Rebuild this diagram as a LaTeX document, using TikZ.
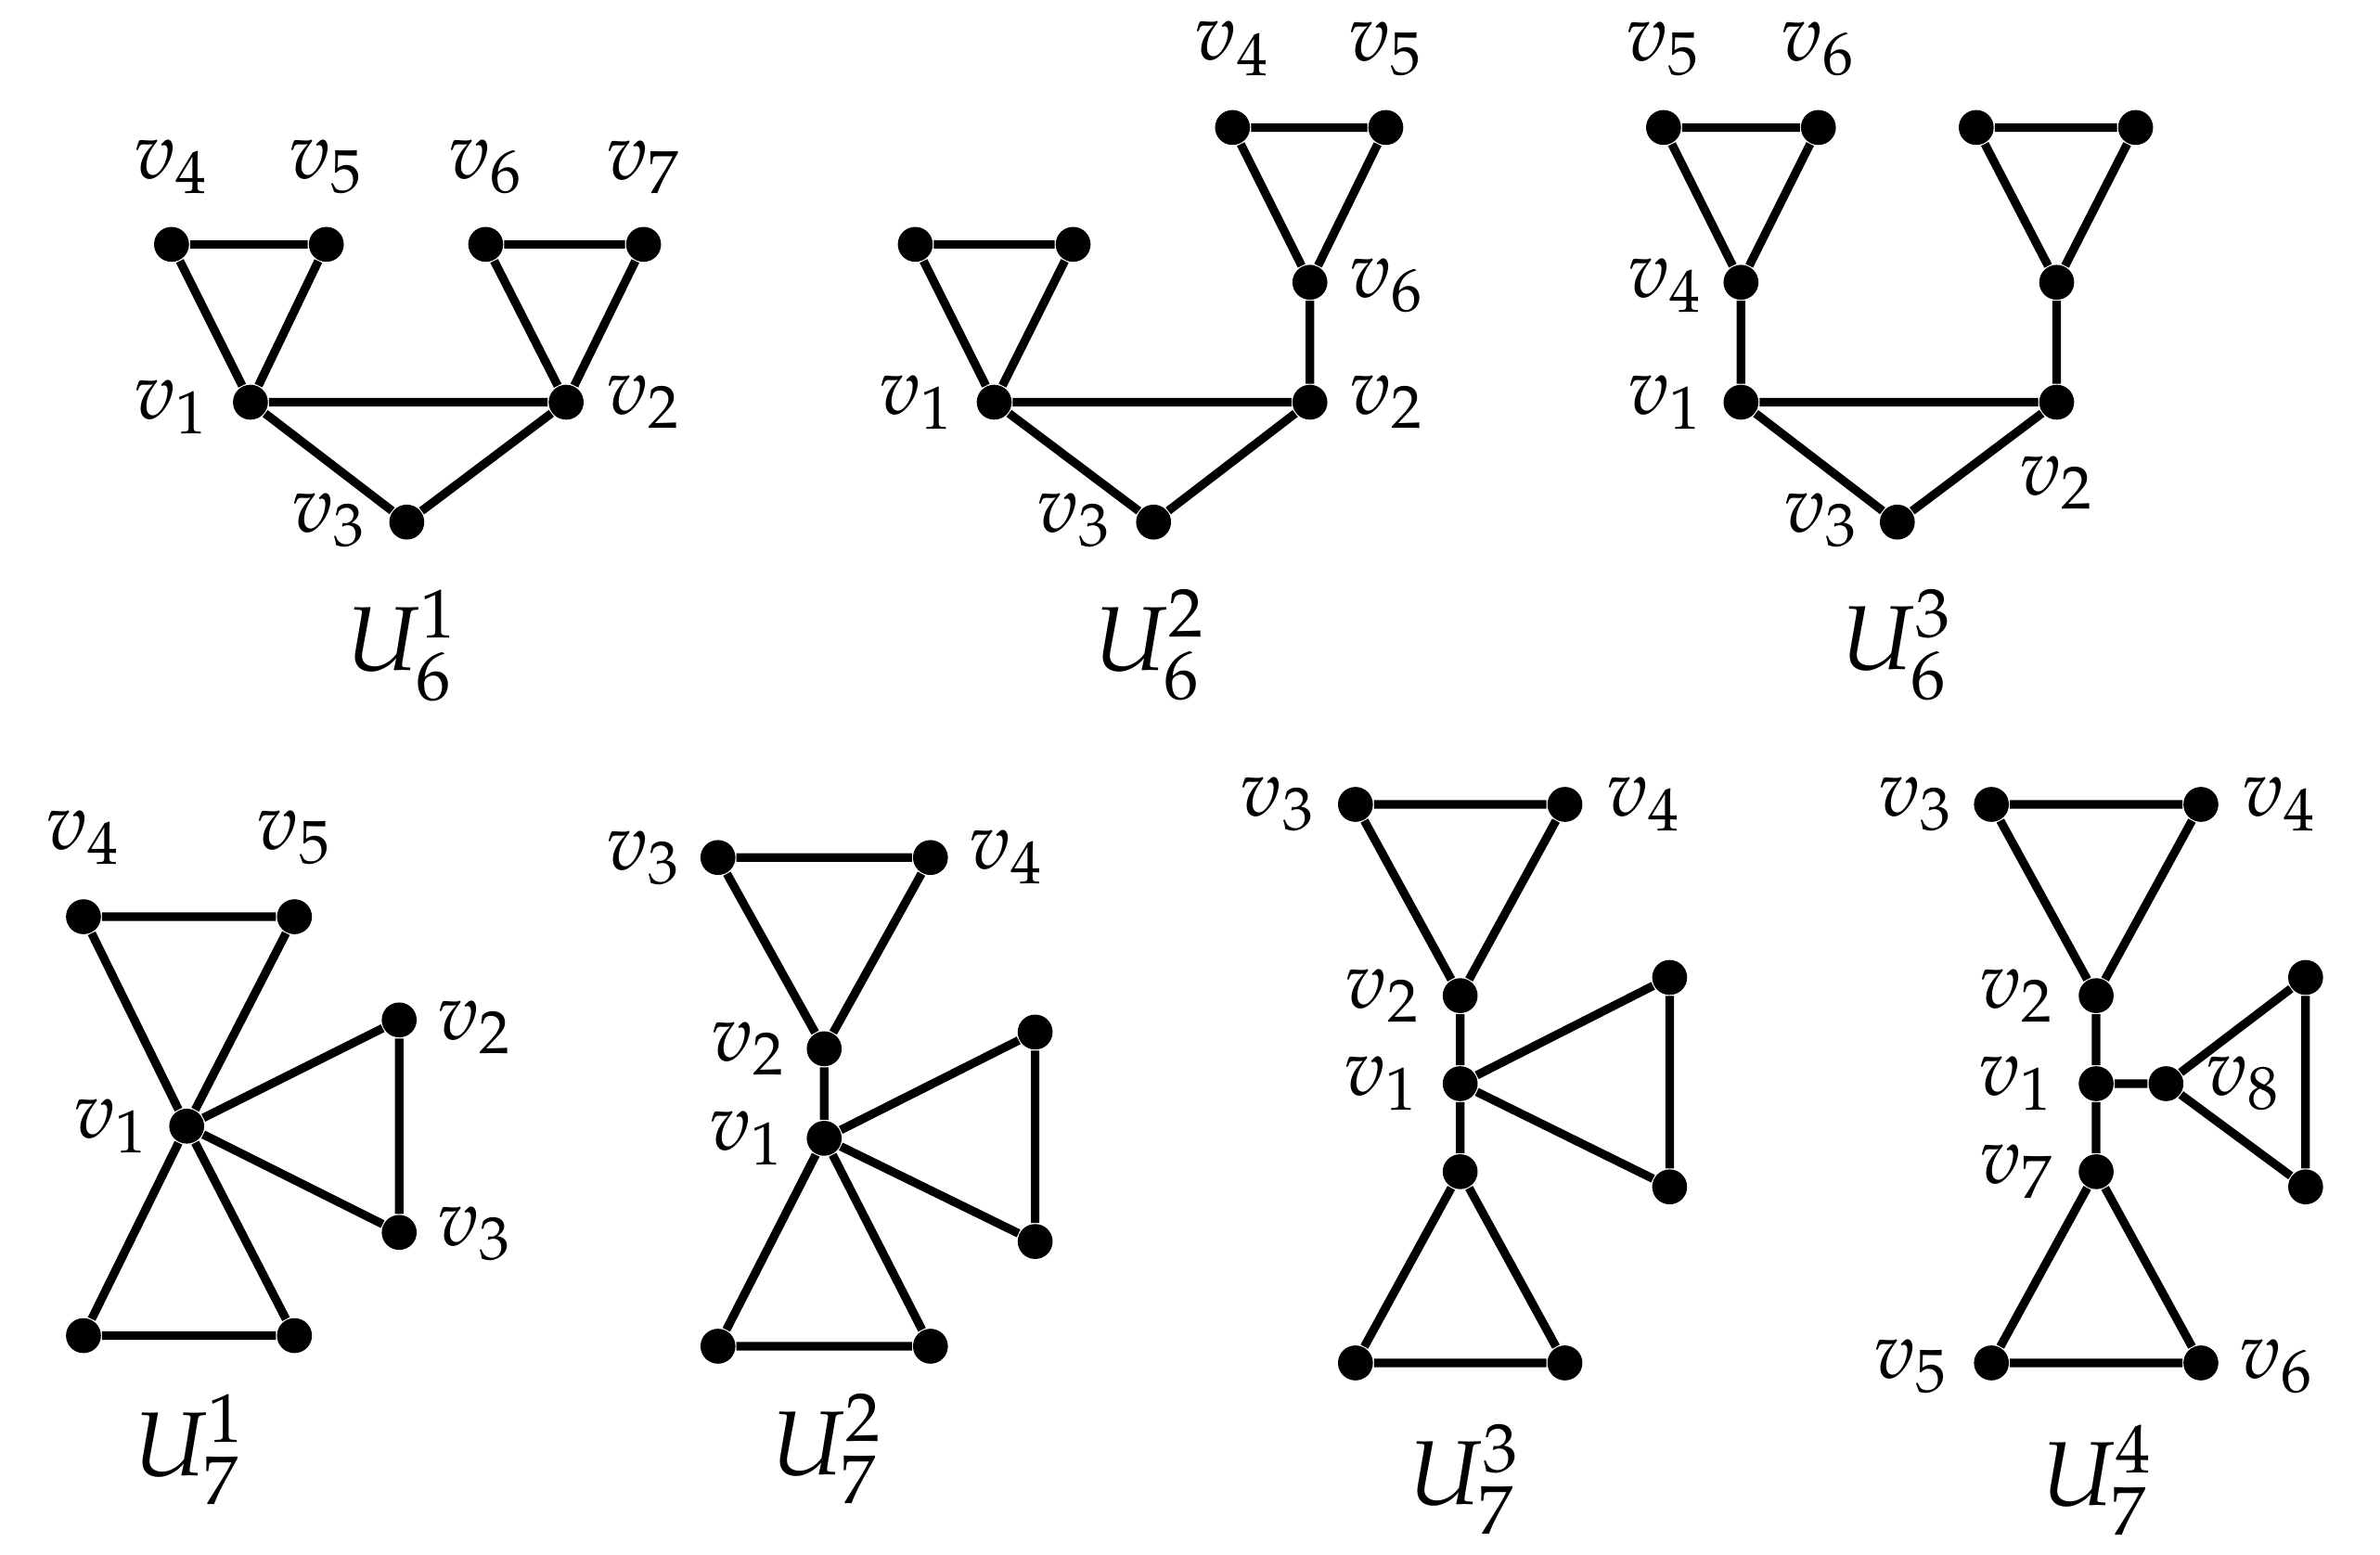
\documentclass[tikz,border=0pt]{standalone}
\usepackage{mathpazo}
\begin{document}
\begin{tikzpicture}[x=0.01cm,y=-0.01cm,
  dot/.style={circle,fill=black,inner sep=0pt,minimum size=0.23cm},
  lbl/.style={inner sep=0pt,font=\fontsize{15}{18}\selectfont},
  ttl/.style={inner sep=0pt,font=\fontsize{17}{20}\selectfont},
  edge/.style={line width=1.6pt}]
\useasboundingbox (0,0) rectangle (1568,1024);
% ---------- U_6^1 ----------
\node[dot] (a4) at (113,161) {};
\node[dot] (a5) at (215,161) {};
\node[dot] (a6) at (320,161) {};
\node[dot] (a7) at (424,161) {};
\node[dot] (a1) at (165,265) {};
\node[dot] (a2) at (373,265) {};
\node[dot] (a3) at (268,344) {};
\draw[edge] (a4)--(a5) (a4)--(a1) (a5)--(a1) (a6)--(a7) (a6)--(a2) (a7)--(a2)
  (a1)--(a2) (a1)--(a3) (a3)--(a2);
\node[lbl] (la4) at (113,110) {$v_4$};
\node[lbl] (la5) at (215,110) {$v_5$};
\node[lbl] (la6) at (320,110) {$v_6$};
\node[lbl] (la7) at (424,110) {$v_7$};
\node[lbl] (la1) at (113,268) {$v_1$};
\node[lbl] (la2) at (424,265) {$v_2$};
\node[lbl] (la3) at (217,343) {$v_3$};
\node[ttl] (ta) at (265,425) {$U_6^1$};
% ---------- U_6^2 ----------
\node[dot] (b4) at (812,84) {};
\node[dot] (b5) at (913,84) {};
\node[dot] (b6) at (863,186) {};
\node[dot] (b2) at (863,265) {};
\node[dot] (b1) at (655,265) {};
\node[dot] (b3) at (760,344) {};
\node[dot] (b7) at (603,161) {};
\node[dot] (b8) at (707,161) {};
\draw[edge] (b4)--(b5) (b4)--(b6) (b5)--(b6) (b6)--(b2) (b1)--(b2) (b1)--(b3) (b3)--(b2)
  (b7)--(b8) (b7)--(b1) (b8)--(b1);
\node[lbl] (lb4) at (812,32) {$v_4$};
\node[lbl] (lb5) at (913,32) {$v_5$};
\node[lbl] (lb6) at (914,188) {$v_6$};
\node[lbl] (lb2) at (914,265) {$v_2$};
\node[lbl] (lb1) at (604,265) {$v_1$};
\node[lbl] (lb3) at (708,343) {$v_3$};
\node[ttl] (tb) at (758,425) {$U_6^2$};
% ---------- U_6^3 ----------
\node[dot] (c5) at (1096,84) {};
\node[dot] (c6) at (1198,84) {};
\node[dot] (c4) at (1147,186) {};
\node[dot] (c1) at (1147,265) {};
\node[dot] (c2) at (1355,265) {};
\node[dot] (c3) at (1250,344) {};
\node[dot] (c7) at (1302,84) {};
\node[dot] (c8) at (1407,84) {};
\node[dot] (c9) at (1355,186) {};
\draw[edge] (c5)--(c6) (c5)--(c4) (c6)--(c4) (c4)--(c1) (c1)--(c2) (c1)--(c3) (c3)--(c2)
  (c7)--(c8) (c7)--(c9) (c8)--(c9) (c9)--(c2);
\node[lbl] (lc5) at (1096,32) {$v_5$};
\node[lbl] (lc6) at (1198,32) {$v_6$};
\node[lbl] (lc4) at (1097,188) {$v_4$};
\node[lbl] (lc1) at (1097,265) {$v_1$};
\node[lbl] (lc2) at (1355,318) {$v_2$};
\node[lbl] (lc3) at (1200,343) {$v_3$};
\node[ttl] (tc) at (1250,425) {$U_6^3$};
% ---------- U_7^1 ----------
\node[dot] (d4) at (55,604) {};
\node[dot] (d5) at (194,604) {};
\node[dot] (d1) at (123,742) {};
\node[dot] (d2) at (263,672) {};
\node[dot] (d3) at (263,812) {};
\node[dot] (d6) at (55,880) {};
\node[dot] (d7) at (194,880) {};
\draw[edge] (d4)--(d5) (d4)--(d1) (d5)--(d1) (d1)--(d2) (d2)--(d3) (d3)--(d1)
  (d1)--(d6) (d1)--(d7) (d6)--(d7);
\node[lbl] (ld4) at (55,552) {$v_4$};
\node[lbl] (ld5) at (194,552) {$v_5$};
\node[lbl] (ld1) at (73,742) {$v_1$};
\node[lbl] (ld2) at (313,677) {$v_2$};
\node[lbl] (ld3) at (313,813) {$v_3$};
\node[ttl] (td) at (125,955) {$U_7^1$};
% ---------- U_7^2 ----------
\node[dot] (e3) at (473,565) {};
\node[dot] (e4) at (613,565) {};
\node[dot] (e2) at (543,691) {};
\node[dot] (e1) at (543,750) {};
\node[dot] (e5) at (682,680) {};
\node[dot] (e6) at (682,818) {};
\node[dot] (e7) at (473,887) {};
\node[dot] (e8) at (613,887) {};
\draw[edge] (e3)--(e4) (e3)--(e2) (e4)--(e2) (e2)--(e1) (e1)--(e5) (e5)--(e6) (e6)--(e1)
  (e1)--(e7) (e1)--(e8) (e7)--(e8);
\node[lbl] (le3) at (424,565) {$v_3$};
\node[lbl] (le4) at (663,565) {$v_4$};
\node[lbl] (le2) at (493,691) {$v_2$};
\node[lbl] (le1) at (492,750) {$v_1$};
\node[ttl] (te) at (545,955) {$U_7^2$};
% ---------- U_7^3 ----------
\node[dot] (f3) at (893,530) {};
\node[dot] (f4) at (1031,530) {};
\node[dot] (f2) at (962,656) {};
\node[dot] (f1) at (962,714) {};
\node[dot] (f7) at (962,772) {};
\node[dot] (f8) at (1100,644) {};
\node[dot] (f9) at (1100,782) {};
\node[dot] (f5) at (893,898) {};
\node[dot] (f6) at (1031,898) {};
\draw[edge] (f3)--(f4) (f3)--(f2) (f4)--(f2) (f2)--(f1) (f1)--(f7) (f1)--(f8) (f8)--(f9) (f9)--(f1)
  (f7)--(f5) (f7)--(f6) (f5)--(f6);
\node[lbl] (lf3) at (842,530) {$v_3$};
\node[lbl] (lf4) at (1083,530) {$v_4$};
\node[lbl] (lf2) at (911,656) {$v_2$};
\node[lbl] (lf1) at (910,714) {$v_1$};
\node[ttl] (tf) at (965,975) {$U_7^3$};
% ---------- U_7^4 ----------
\node[dot] (g3) at (1312,530) {};
\node[dot] (g4) at (1450,530) {};
\node[dot] (g2) at (1381,656) {};
\node[dot] (g1) at (1381,714) {};
\node[dot] (g8) at (1427,714) {};
\node[dot] (g7) at (1381,772) {};
\node[dot] (g9) at (1519,644) {};
\node[dot] (g10) at (1519,782) {};
\node[dot] (g5) at (1312,898) {};
\node[dot] (g6) at (1450,898) {};
\draw[edge] (g3)--(g4) (g3)--(g2) (g4)--(g2) (g2)--(g1) (g1)--(g7) (g1)--(g8)
  (g8)--(g9) (g9)--(g10) (g10)--(g8) (g7)--(g5) (g7)--(g6) (g5)--(g6);
\node[lbl] (lg3) at (1262,530) {$v_3$};
\node[lbl] (lg4) at (1502,530) {$v_4$};
\node[lbl] (lg2) at (1329,656) {$v_2$};
\node[lbl] (lg1) at (1328,714) {$v_1$};
\node[lbl] (lg8) at (1478,714) {$v_8$};
\node[lbl] (lg7) at (1329,772) {$v_7$};
\node[lbl] (lg5) at (1259,900) {$v_5$};
\node[lbl] (lg6) at (1500,900) {$v_6$};
\node[ttl] (tg) at (1382,975) {$U_7^4$};
\end{tikzpicture}
\end{document}
